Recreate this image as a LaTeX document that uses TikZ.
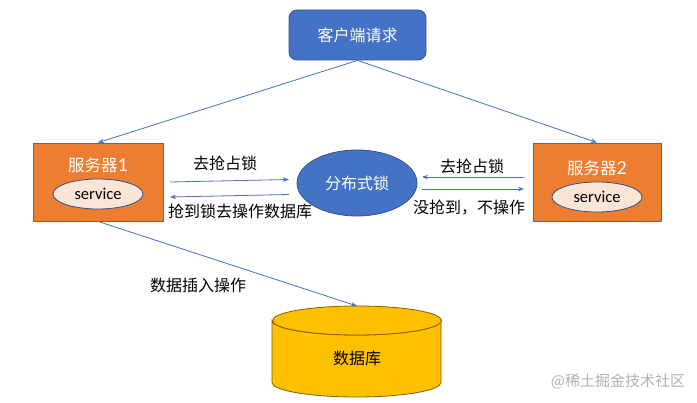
\documentclass[tikz,border=0pt]{standalone}
\usepackage{fontspec}
\setmainfont{Carlito}
\newfontfamily\cjk{Noto Sans CJK SC}
\usetikzlibrary{arrows.meta,shapes.geometric}
\definecolor{mblue}{HTML}{4472C4}
\definecolor{dblue}{HTML}{2F528F}
\definecolor{morange}{HTML}{ED7D31}
\definecolor{pinkfill}{HTML}{FBE5D6}
\definecolor{gold}{HTML}{FFC000}
\definecolor{goldline}{HTML}{7F6000}
\definecolor{boxline}{HTML}{41719C}
\tikzset{
  conn/.style={draw=mblue, line width=0.8pt, -{Stealth[length=6pt,width=4.5pt]}},
  lbl/.style={font=\cjk\fontsize{16}{19}\selectfont, text=black, inner sep=0pt},
  srvbox/.style={draw=boxline, line width=0.8pt, fill=morange, minimum width=130pt, minimum height=78pt, inner sep=0pt},
  svc/.style={ellipse, draw=dblue, line width=0.8pt, fill=pinkfill, minimum width=90pt, minimum height=30pt, inner sep=0pt, font=\fontsize{16.5}{19}\selectfont},
  wtext/.style={text=white, inner sep=0pt, font=\fontsize{16.5}{19}\selectfont},
}
\begin{document}
\begin{tikzpicture}[x=1pt,y=-1pt]
\useasboundingbox (0,0) rectangle (697,403);
\fill[white] (0,0) rectangle (697,403);

% client
\node[draw=dblue, line width=0.8pt, fill=mblue, rounded corners=8pt, minimum width=137pt, minimum height=50pt, inner sep=0pt, text=white, font=\cjk\fontsize{16}{19}\selectfont] (client) at (357.5,35) {客户端请求};

% servers
\node[srvbox] (srv1) at (98,182) {};
\node[wtext] (srv1t) at (98,165) {{\cjk 服务器}{\fontsize{20}{20}\selectfont 1}};
\node[svc] (svc1) at (98,194) {service};

\node[srvbox, minimum width=128pt] (srv2) at (597,182) {};
\node[wtext] (srv2t) at (597,168) {{\cjk 服务器}{\fontsize{20}{20}\selectfont 2}};
\node[svc] (svc2) at (597,197) {service};

% lock
\node[ellipse, draw=dblue, line width=0.8pt, fill=mblue, minimum width=120pt, minimum height=66pt, inner sep=0pt, text=white, font=\cjk\fontsize{16}{19}\selectfont] (lock) at (357,183) {分布式锁};

% database cylinder
\coordinate (dbtop) at (357,306);
\filldraw[draw=goldline, line width=0.8pt, fill=gold]
  (272,320.5) arc[start angle=180, end angle=360, x radius=84.5pt, y radius=14.5pt]
  -- (441,382.5) arc[start angle=0, end angle=-180, x radius=84.5pt, y radius=14.5pt]
  -- cycle;
\filldraw[draw=goldline, line width=0.8pt, fill=gold]
  (357,320.5) ellipse[x radius=84.5pt, y radius=14.5pt];
\node[lbl] (db) at (357,358) {数据库};

% connectors
\draw[conn] (client.south) -- (srv1.north);
\draw[conn] (client.south) -- (srv2.north);
\draw[conn] (srv1.south) -- (dbtop);

\coordinate (a1s) at (170,182);
\coordinate (a1e) at (289,179.5);
\coordinate (a2s) at (289,194.5);
\coordinate (a2e) at (170,197);
\coordinate (b1s) at (524,177);
\coordinate (b1e) at (422,177);
\coordinate (b2s) at (422,189);
\coordinate (b2e) at (524,189);
\draw[conn] (a1s) -- (a1e);
\draw[conn] (a2s) -- (a2e);
\draw[conn] (b1s) -- (b1e);
\draw[conn] (b2s) -- (b2e);

% labels
\node[lbl] (l1) at (225,163) {去抢占锁};
\node[lbl] (l2) at (240,211) {抢到锁去操作数据库};
\node[lbl] (l3) at (472,166) {去抢占锁};
\node[lbl] (l4) at (469,208) {没抢到，不操作};
\node[lbl] (l5) at (198,285) {数据插入操作};

% watermark
\node[lbl, text=black!30, font=\cjk\fontsize{15}{18}\selectfont] (wm) at (618,381) {@稀土掘金技术社区};
\end{tikzpicture}
\end{document}
